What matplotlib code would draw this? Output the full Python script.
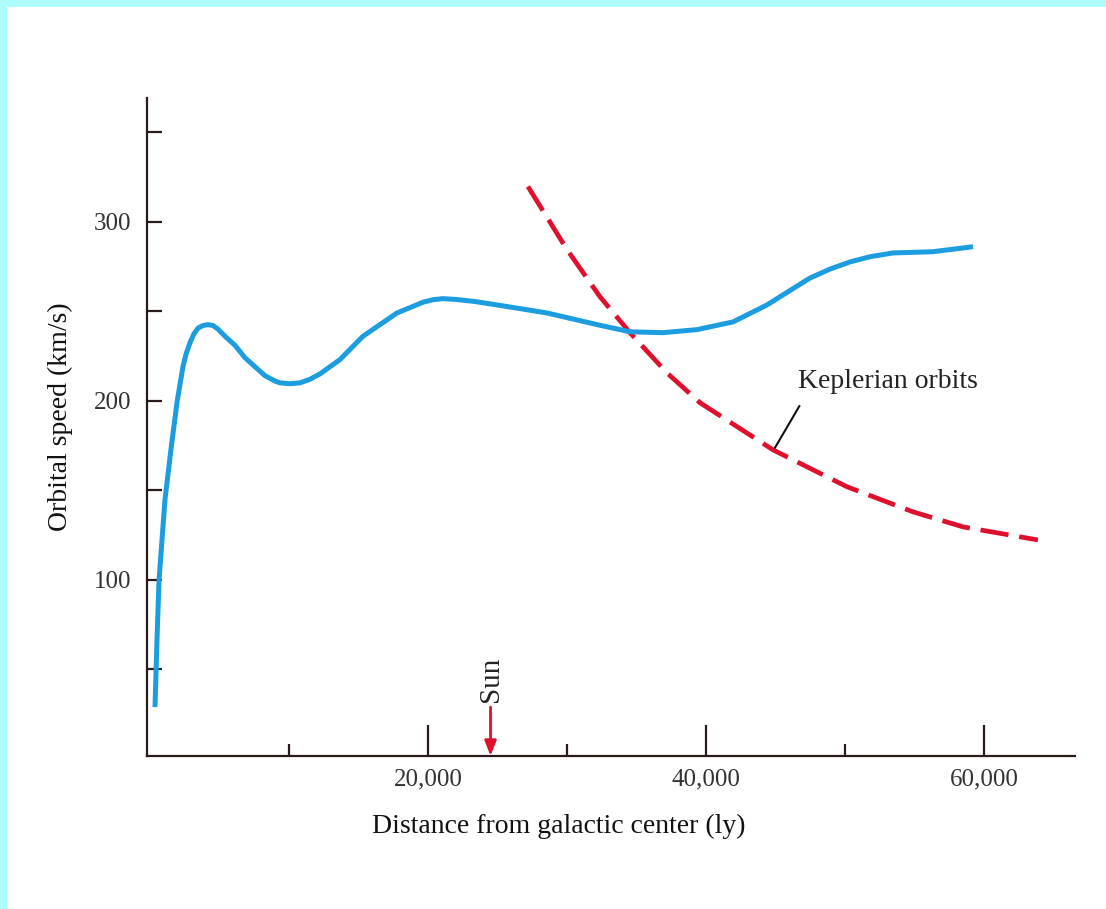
import matplotlib.pyplot as plt
from matplotlib.patches import Rectangle

# rotation curve (blue)
dist_ly = [360, 500, 650, 1080, 1510, 1940, 2370, 2590, 2880, 3165, 3450, 3813,
           4170, 4532, 4890, 5395, 6110, 6834, 7550, 8273, 8990, 9352, 10070,
           10790, 11510, 12230, 13670, 15320, 17770, 19640, 20360, 21080, 21940,
           23380, 24960, 28560, 32160, 34530, 36900, 39350, 41940, 44390, 47480,
           48920, 50360, 51800, 53450, 56330, 59210]
speed_kms = [29, 66, 100, 145, 173, 199, 219, 226, 232.5, 237.4, 240.5, 242,
             242.5, 242, 240, 236, 231, 224, 219, 214, 211, 210, 209.5,
             210, 212, 215, 223, 236, 249, 255, 256.4, 257, 256.6,
             255.4, 253.5, 249, 242.5, 238.5, 238, 239.7, 244, 253.5, 268.5,
             273.5, 277.5, 280.4, 282.5, 283.2, 286]

# Keplerian curve (red dashed)
kep_ly = [27190, 30000, 32370, 34530, 37190, 39570, 44820, 50140, 54890, 58490, 63880]
kep_kms = [319.6, 284.4, 258.1, 238, 215.6, 198.9, 172.6, 152, 138, 129.6, 122.3]

major_x = [20000, 40000, 60000]
major_x_labels = ['20,000', '40,000', '60,000']
minor_x = [10000, 30000, 50000]
major_y = [100, 200, 300]
minor_y = [50, 150, 250, 350]
sun_ly = 24500

serif = ['Liberation Serif', 'DejaVu Serif']
ink = '#2a1a1a'

fig = plt.figure(figsize=(11.06, 9.09), dpi=100)
fig.patch.set_facecolor('white')
# cyan frame strips on the top and left edge
fig.patches.append(Rectangle((0, 1 - 7 / 909), 1, 7 / 909, transform=fig.transFigure,
                             facecolor='#aefcfc', edgecolor='none', zorder=0))
fig.patches.append(Rectangle((0, 0), 7 / 1106, 1, transform=fig.transFigure,
                             facecolor='#aefcfc', edgecolor='none', zorder=0))

ax = fig.add_axes([147 / 1106, 153 / 909, 928 / 1106, 658 / 909])
ax.set_xlim(-216, 66550)
ax.set_ylim(1.7, 369)

ax.plot(dist_ly, speed_kms, color='#1c9de0', lw=3.6, solid_capstyle='butt',
        solid_joinstyle='round', zorder=3)
ax.plot(kep_ly, kep_kms, color='#e0102c', lw=3.4, dashes=(6.0, 2.3),
        dash_capstyle='butt', zorder=2)

for s in ['top', 'right']:
    ax.spines[s].set_visible(False)
for s in ['left', 'bottom']:
    ax.spines[s].set_color(ink)
    ax.spines[s].set_linewidth(1.6)

ax.set_xticks(major_x)
ax.set_xticklabels(major_x_labels)
ax.set_xticks(minor_x, minor=True)
ax.set_yticks(major_y)
ax.set_yticks(minor_y, minor=True)
ax.tick_params(axis='x', which='major', direction='in', length=22, width=1.6,
               color=ink, pad=9, labelsize=18, labelcolor='#333333')
ax.tick_params(axis='x', which='minor', direction='in', length=9, width=1.6, color=ink)
ax.tick_params(axis='y', which='both', direction='in', length=11, width=1.6,
               color=ink, pad=11, labelsize=18, labelcolor='#333333')
for lab in ax.get_xticklabels() + ax.get_yticklabels():
    lab.set_family(serif)

ax.set_xlabel('Distance from galactic center (ly)', family=serif, fontsize=20,
              color='#111111', labelpad=16)
ax.xaxis.set_label_coords(0.444, -0.088)
ax.set_ylabel('Orbital speed (km/s)', family=serif, fontsize=20,
              color='#111111', labelpad=12)
ax.yaxis.set_label_coords(-0.080, 0.515)

# Sun marker
ax.annotate('', xy=(sun_ly, 1.7), xytext=(sun_ly, 29),
            arrowprops=dict(arrowstyle='-|>,head_length=0.9,head_width=0.35',
                            color='#e0102c', lw=2, shrinkA=0, shrinkB=0))
ax.text(sun_ly, 32, 'Sun', rotation=90, ha='center', va='bottom', family=serif,
        fontsize=21, color='#222222')

# label for the Keplerian curve
ax.annotate('Keplerian orbits', xy=(44960, 173.7), xytext=(46600, 211),
            family=serif, fontsize=20, color='#222222', va='center', ha='left',
            arrowprops=dict(arrowstyle='-', color='#111111', lw=1.5,
                            shrinkA=8, shrinkB=0, relpos=(0.05, 0)))

fig.savefig('out.png', dpi=100, facecolor=fig.get_facecolor())
